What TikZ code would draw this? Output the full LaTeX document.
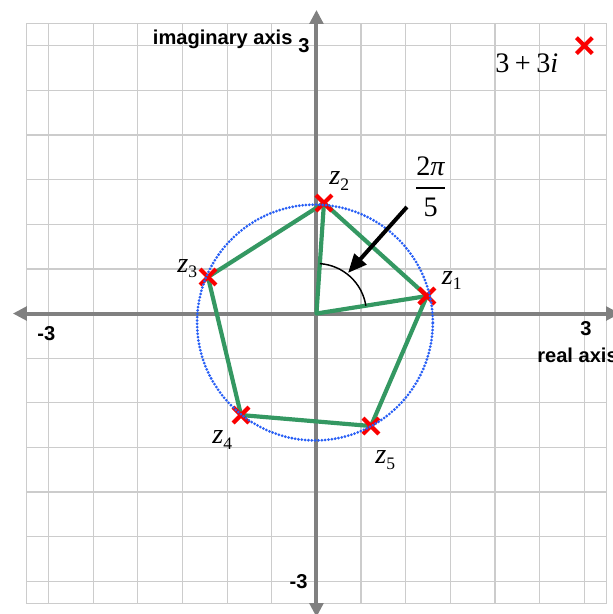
\documentclass[tikz,border=0pt]{standalone}
\usepackage{fontspec}
\setmainfont{Liberation Serif}
\setsansfont{Liberation Sans}
\usepackage{amsmath}
\usepackage{xcolor}
\usepackage{tikz}
\usetikzlibrary{positioning,arrows.meta,shapes.misc,backgrounds}
\definecolor{axisgray}{RGB}{128,128,128}
\definecolor{gridgray}{RGB}{204,204,204}
\definecolor{rootgreen}{RGB}{52,152,98}
\definecolor{circleblue}{RGB}{40,95,245}
\definecolor{markred}{RGB}{250,0,0}
\newcommand{\zroot}[1]{\textit{z}\raisebox{-2.6pt}{\fontsize{8.4}{9}\selectfont #1}}
\tikzset{
  grid-line/.style={draw=gridgray, line width=0.6pt},
  axis-line/.style={draw=axisgray, line width=1.9pt,
    {Triangle[length=6.7pt,width=6.5pt]}-{Triangle[length=6.7pt,width=6.5pt]}},
  root-mark/.style={cross out, draw=markred, line width=2pt,
    minimum size=5.6pt, inner sep=0pt},
  polygon-edge/.style={draw=rootgreen, line width=2pt, line join=round},
  root-circle/.style={draw=circleblue, line width=1.45pt, line cap=round,
    dash pattern=on 0pt off 1.6pt},
  angle-arc/.style={draw=black, line width=0.7pt},
  pointer-arrow/.style={-{Triangle[length=9pt,width=7.5pt]}, line width=1.9pt, draw=black},
  axis-label/.style={font=\sffamily\bfseries\fontsize{9.6}{11}\selectfont, inner sep=0pt},
  root-label/.style={font=\fontsize{13.5}{16}\selectfont, inner sep=0pt}
}

\begin{document}
\begin{tikzpicture}[x=1.5cm, y=1.5cm]
\useasboundingbox (-3.544,-3.365) rectangle (3.320,3.511);

% Fifth roots of 3+3i
\coordinate (O) at (0,0);
\node[root-mark] (z1) at (1.237,0.196) {};
\node[root-mark] (z2) at (0.084,1.237) {};
\node[root-mark] (z3) at (-1.215,0.409) {};
\node[root-mark] (z4) at (-0.845,-1.137) {};
\node[root-mark] (z5) at (0.610,-1.260) {};
\node[root-mark] (w) at (3,3) {};

% Grid, axes and pentagon behind the marks
\begin{scope}[on background layer]
\draw[grid-line] (-3.25,-3.25) grid[step=0.5] (3.25,3.25);
\draw[grid-line] (-3.25,-3.25) rectangle (3.25,3.25);
\draw[axis-line] (-3.4,0) -- (3.4,0);
\draw[axis-line] (0,-3.4) -- (0,3.4);
\draw[polygon-edge] (z1.center) -- (z2.center) -- (z3.center) -- (z4.center) -- (z5.center) -- cycle;
\draw[polygon-edge] (z2.center) -- (O) -- (z1.center);
\end{scope}

% Circle through the roots
\draw[root-circle] (-0.017,-0.101) circle[radius=1.32];

% Angle between z1 and z2
\draw[angle-arc] ([shift={(9:0.56)}]O) arc[start angle=9, end angle=86, radius=0.56];
\node[root-label] (frac) at (1.28,1.42) {$\genfrac{}{}{1pt}{0}{\mbox{2\textit{π}}}{\mbox{5}}$};
\coordinate (tail) at (1.013,1.193);
\coordinate (tip) at (0.353,0.454);
\draw[pointer-arrow] (tail) -- (tip);

% Root labels
\node[root-label, anchor=base west] (l1) at (1.40,0.33) {\zroot{1}};
\node[root-label, anchor=base west] (l2) at (0.14,1.44) {\zroot{2}};
\node[root-label, anchor=base west] (l3) at (-1.562,0.465) {\zroot{3}};
\node[root-label, anchor=base west] (l4) at (-1.17,-1.46) {\zroot{4}};
\node[root-label, anchor=base west] (l5) at (0.655,-1.685) {\zroot{5}};
\node[root-label, anchor=base west] (wlabel) at (2.0,2.70) {3\kern0.19em+\kern0.19em3\textit{i}};

% Axis labels
\node[axis-label, anchor=base east] (ytop) at (-0.073,2.92) {3};
\node[axis-label, base left=2.4pt of ytop, yshift=3.8pt] (imlabel) {imaginary axis};
\node[axis-label, anchor=base east] (ybot) at (-0.095,-3.074) {-3};
\node[axis-label, anchor=base west] (xleft) at (-3.13,-0.297) {-3};
\node[axis-label, anchor=base west] (xright) at (2.951,-0.241) {3};
\node[axis-label, anchor=base west] (relabel) at (2.469,-0.543) {real axis};
\end{tikzpicture}
\end{document}
